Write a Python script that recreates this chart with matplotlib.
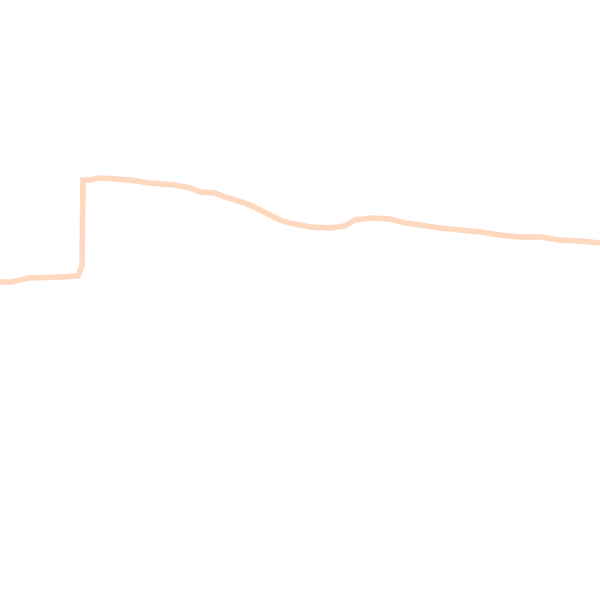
import numpy as np
import matplotlib
matplotlib.use("Agg")
import matplotlib.pyplot as plt

#----------------------------------------------------------------------
# series (x position, value)
xs = [0, 10, 30, 60, 78, 82, 83, 90, 100, 130, 150, 175, 190, 200, 215,
      225, 235, 250, 260, 270, 280, 290, 310, 330, 345, 355, 370, 390,
      405, 420, 440, 460, 480, 500, 520, 540, 560, 580, 600]
values = [318, 318, 322, 323, 324, 334, 420, 420, 422, 420, 417, 415, 412,
          408, 407, 403, 400, 395, 390, 385, 380, 377, 373, 372, 374, 380,
          382, 381, 377, 375, 372, 370, 368, 365, 363, 363, 360, 359, 357]

line_color = "#fed8bf"

#----------------------------------------------------------------------

fig = plt.figure(figsize=(6, 6), dpi=100)
ax = fig.add_axes([0, 0, 1, 1])
ax.plot(xs, values, '-', color=line_color, linewidth=4, solid_joinstyle="miter")
ax.set_xlim(0, 600)
ax.set_ylim(0, 600)
ax.axis("off")

fig.savefig("out.png", dpi=100)
